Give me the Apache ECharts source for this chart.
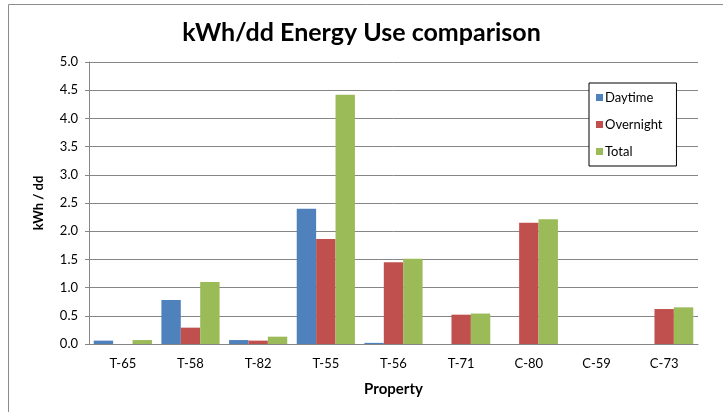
<!DOCTYPE html>
<html>
<head>
<meta charset="utf-8">
<script src="https://cdn.jsdelivr.net/npm/echarts@6/dist/echarts.min.js"></script>
<style>
  html, body { margin: 0; padding: 0; background: #fff; }
  #chart { width: 723px; height: 412px; }
</style>
</head>
<body>
<div id="chart"></div>
<script>
// Properties on the category axis
const properties = ['T-65', 'T-58', 'T-82', 'T-55', 'T-56', 'T-71', 'C-80', 'C-59', 'C-73'];
// kWh per degree-day for each property
const daytime   = [0.06, 0.78, 0.07, 2.40, 0.02, 0.00, 0.00, 0.00, 0.00];
const overnight = [0.00, 0.29, 0.06, 1.86, 1.45, 0.52, 2.15, 0.00, 0.62];
const total     = [0.07, 1.10, 0.13, 4.42, 1.51, 0.54, 2.21, 0.00, 0.65];
const yTicks = [0, 0.5, 1, 1.5, 2, 2.5, 3, 3.5, 4, 4.5, 5];

const FONT = 'Lato, "Open Sans", sans-serif';
const chart = echarts.init(document.getElementById('chart'));

chart.setOption({
  animation: false,
  textStyle: { fontFamily: FONT },
  graphic: [{
    type: 'rect',
    shape: { x: 8.5, y: 4.5, width: 740, height: 430 },
    style: { fill: 'none', stroke: '#8c8c8c', lineWidth: 1 },
    silent: true
  }],
  title: {
    text: 'kWh/dd Energy Use comparison',
    left: 'center',
    top: 15,
    textStyle: { fontFamily: FONT, fontSize: 25, fontWeight: 'bold', color: '#000' }
  },
  legend: {
    orient: 'vertical',
    left: 589,
    top: 83,
    itemWidth: 7,
    itemHeight: 7,
    itemGap: 14,
    padding: [8, 14, 8, 7],
    icon: 'rect',
    borderColor: '#000',
    borderWidth: 1,
    backgroundColor: '#fff',
    textStyle: { fontFamily: FONT, fontSize: 13, color: '#000', padding: [0, 0, 0, -3] },
    data: ['Daytime', 'Overnight', 'Total']
  },
  grid: { left: 89, right: 25, top: 62, bottom: 68, containLabel: false },
  xAxis: {
    type: 'category',
    data: properties,
    name: 'Property',
    nameLocation: 'middle',
    nameGap: 38,
    nameTextStyle: { fontFamily: FONT, fontSize: 15, fontWeight: 'bold', color: '#000' },
    axisLine: { lineStyle: { color: '#868686', width: 1 } },
    axisTick: { show: false },
    axisLabel: { fontFamily: FONT, fontSize: 13, color: '#000', margin: 13 }
  },
  yAxis: {
    type: 'value',
    min: yTicks[0],
    max: yTicks[yTicks.length - 1],
    interval: 0.5,
    name: 'kWh / dd',
    nameLocation: 'middle',
    nameGap: 44,
    nameRotate: 90,
    nameTextStyle: { fontFamily: FONT, fontSize: 13, fontWeight: 'bold', color: '#000' },
    axisLine: { show: true, lineStyle: { color: '#868686', width: 1 } },
    axisTick: { show: true, length: 4, lineStyle: { color: '#868686' } },
    axisLabel: {
      fontFamily: FONT, fontSize: 13, color: '#000', margin: 11,
      formatter: v => v.toFixed(1)
    },
    splitLine: { lineStyle: { color: '#868686', width: 1 } }
  },
  series: [
    { name: 'Daytime',   type: 'bar', data: daytime,   itemStyle: { color: '#4f81bd' }, barGap: '0%', barCategoryGap: '14%' },
    { name: 'Overnight', type: 'bar', data: overnight, itemStyle: { color: '#c0504d' }, barGap: '0%', barCategoryGap: '14%' },
    { name: 'Total',     type: 'bar', data: total,     itemStyle: { color: '#9bbb59' }, barGap: '0%', barCategoryGap: '14%' }
  ]
});
</script>
</body>
</html>
